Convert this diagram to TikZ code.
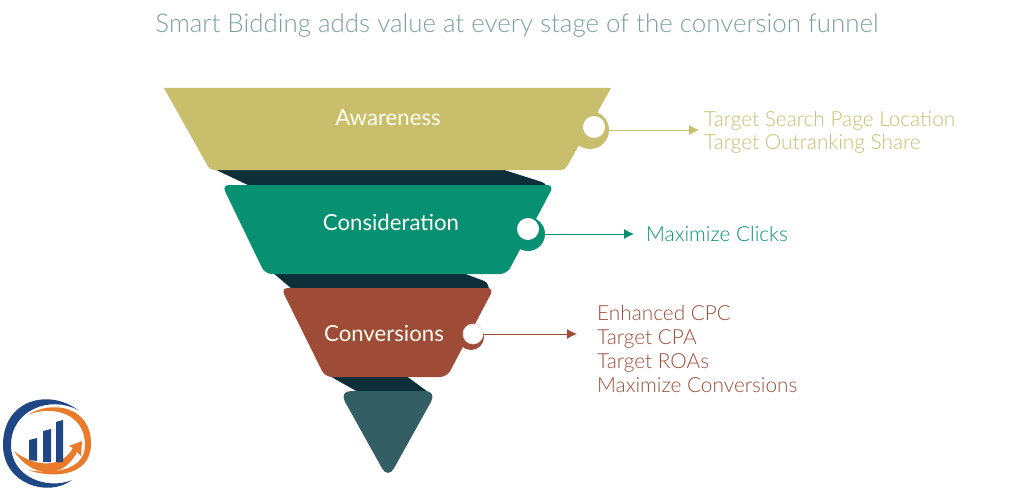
\documentclass[tikz,border=0pt]{standalone}
\usepackage{fontspec}
\usetikzlibrary{arrows.meta}
\setmainfont{Lato}
\newfontfamily\lightfont{Lato Light}
\definecolor{khaki}{HTML}{C8BE6C}
\definecolor{teal}{HTML}{079072}
\definecolor{rust}{HTML}{9E4C38}
\definecolor{slate}{HTML}{325E64}
\definecolor{banddark}{HTML}{0C2F3A}
\definecolor{heading}{HTML}{7C9FA3}
\definecolor{logoblue}{HTML}{1F4685}
\definecolor{logoorange}{HTML}{E97B2B}
\begin{document}
\begin{tikzpicture}[
            x=1pt, y=-1pt,
            stage/.style={font=\fontsize{22.2}{24}\selectfont, text=white!95!yellow, inner sep=0pt, anchor=base},
            tactic/.style={font=\lightfont\fontsize{20.8}{24}\selectfont, anchor=base west, inner sep=0pt},
            ring/.style={circle, inner sep=0pt},
            hub/.style={circle, fill=white, inner sep=0pt, minimum size=22pt},
            link/.style={-{Latex[length=10pt,width=10pt]}, line width=0.8pt},
        ]
            \useasboundingbox (0,0) rectangle (1024,492);

            % Title
            \node[font=\lightfont\fontsize{25.9}{28}\selectfont, text=heading, inner sep=0pt] (title) at (517,25) {Smart Bidding adds value at every stage of the conversion funnel};

            % Dark bands behind the stages
            \fill[banddark, rounded corners=3pt] (212,168) -- (498,168) -- (545,183) -- (549,192) -- (260,192) -- (250,186) -- cycle;
            \fill[banddark, rounded corners=3pt] (272,272) -- (460,272) -- (487,282) -- (490,292) -- (300,292) -- (292,289) -- cycle;
            \fill[banddark] (328,375) -- (405,375) -- (428,392) -- (358,392) -- cycle;

            % Awareness
            \fill[khaki] (164,88) -- (611,88) [rounded corners=4pt] -- (565,170) -- (210,170) [sharp corners] -- cycle;
            \node[ring, fill=khaki, minimum size=38pt] (awareRing) at (590,130) {};
            \node[hub] (awareHub) at (594,127) {};
            \node[stage] (awareness) at (388,125) {Awareness};
            \node[tactic, text=khaki] (search) at (704,126) {Target Search Page Location};
            \node[tactic, text=khaki] (outrank) at (704,149) {Target Outranking Share};

            % Consideration
            \fill[teal, rounded corners=7pt] (222,185) -- (554,185) -- (507,274) -- (265,274) -- cycle;
            \node[ring, fill=teal, minimum size=34pt] (considerRing) at (528,234) {};
            \node[hub] (considerHub) at (528,229) {};
            \node[stage] (consideration) at (391,230) {Consideration};
            \node[tactic, text=teal] (clicks) at (646,241) {Maximize Clicks};

            % Conversions
            \fill[rust, rounded corners=7pt] (281,288) -- (494,288) -- (447,377) -- (325,377) -- cycle;
            \node[ring, fill=rust, minimum size=26pt] (convertRing) at (471,337) {};
            \node[hub, draw=white!85!rust, line width=0.6pt, minimum size=20pt] (convertHub) at (473,334) {};
            \node[stage] (conversions) at (384,341) {Conversions};
            \node[tactic, text=rust] (cpc) at (597,320) {Enhanced CPC};
            \node[tactic, text=rust] (cpa) at (597,344) {Target CPA};
            \node[tactic, text=rust] (roas) at (597,368) {Target ROAs};
            \node[tactic, text=rust] (maxconv) at (597,392) {Maximize Conversions};

            % Bottom of the funnel
            \fill[slate, rounded corners=12pt] (339,391) -- (437,391) -- (388,479) -- cycle;

            % Arrows to the tactics
            \coordinate (awareTip) at (699,130);
            \coordinate (considerTip) at (634,234);
            \coordinate (convertTip) at (577,334);
            \draw[link, draw=khaki, fill=khaki] (awareRing.east |- awareTip) -- (awareTip);
            \draw[link, draw=teal, fill=teal] (considerRing.east |- considerTip) -- (considerTip);
            \draw[link, draw=rust, fill=rust] (convertHub.east |- convertTip) -- (convertTip);

            % Logo
            \fill[logoblue] (78,410) .. controls (48,388) and (3,400) .. (3,445) .. controls (3,484) and (48,498) .. (72,480) .. controls (48,490) and (11,478) .. (11,445) .. controls (11,410) and (50,395) .. cycle;
            \fill[logoorange] (28,415) .. controls (50,400) and (92,405) .. (91,445) .. controls (90,478) and (50,478) .. (28,470) .. controls (50,474) and (85,472) .. (85,445) .. controls (85,412) and (50,405) .. cycle;
            \fill[logoorange] (14,451) .. controls (35,468) and (62,468) .. (73,448) -- (69,446) -- (82,441) -- (81,456) -- (77,452) .. controls (62,482) and (30,476) .. cycle;
            \fill[logoblue] (29,440) -- (37,438) -- (37,461) -- (29,460) -- cycle;
            \fill[logoblue] (43,431) -- (51,429) -- (51,462) -- (43,462) -- cycle;
            \fill[logoblue] (56,422) -- (63,420) -- (63,462) -- (56,462) -- cycle;
        \end{tikzpicture}
\end{document}
